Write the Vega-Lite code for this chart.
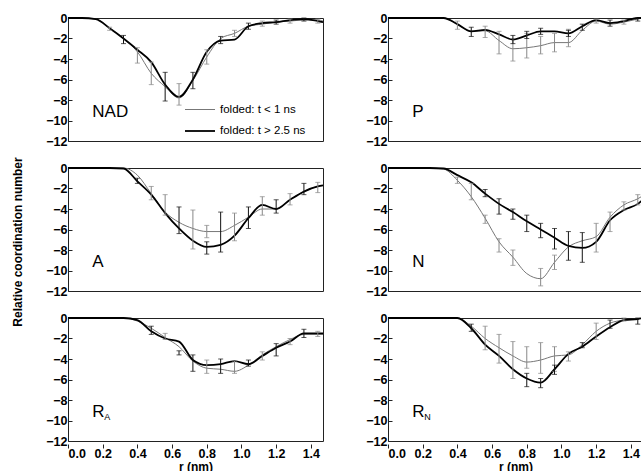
{
  "$schema": "https://vega.github.io/schema/vega-lite/v6.json",
  "padding": {"left": 12, "top": 11, "right": 0, "bottom": 0},
  "background": "white",
  "title": {"text": "Relative coordination number", "orient": "left", "anchor": "middle", "font": "Liberation Sans", "fontSize": 12, "fontWeight": "bold", "color": "#000", "offset": 20},
  "config": {
    "view": {"stroke": "#222", "strokeWidth": 1},
    "header": {"labels": false, "title": null, "labelFontSize": 0, "labelPadding": 0, "titlePadding": 0},
    "axis": {"domain": false, "grid": false, "labelFont": "Liberation Sans", "labelFontWeight": "bold", "labelFontSize": 12.5, "labelColor": "#000", "tickColor": "#222", "tickSize": 4, "offset": -4, "tickWidth": 1, "labelOverlap": false, "labelSeparation": -40, "labelBound": false, "titleFont": "Liberation Sans", "titleFontWeight": "bold", "titleFontSize": 12, "titleColor": "#000"},
    "axisX": {"labelOverlap": false, "labelSeparation": -40},
    "axisY": {"labelOverlap": false, "labelSeparation": -40},
    "legend": {"labelFont": "Liberation Sans", "labelFontSize": 11.5, "labelColor": "#000"}
  },
  "data": {"values": [
    {"p":"NAD","s":"thin","r":0,"v":0,"lab":"NAD","sub":""},{"p":"NAD","s":"thin","r":0.08,"v":0},{"p":"NAD","s":"thin","r":0.16,"v":-0.1},{"p":"NAD","s":"thin","r":0.24,"v":-1.0,"lo":-0.9,"hi":-1.2},{"p":"NAD","s":"thin","r":0.32,"v":-2.0},{"p":"NAD","s":"thin","r":0.4,"v":-3.3,"lo":-2.9,"hi":-4.4},{"p":"NAD","s":"thin","r":0.48,"v":-5.4,"lo":-4.3,"hi":-6.5},{"p":"NAD","s":"thin","r":0.56,"v":-6.7},{"p":"NAD","s":"thin","r":0.64,"v":-7.8,"lo":-6.4,"hi":-8.5},{"p":"NAD","s":"thin","r":0.72,"v":-6.1},{"p":"NAD","s":"thin","r":0.8,"v":-3.8,"lo":-3.1,"hi":-4.5},{"p":"NAD","s":"thin","r":0.88,"v":-2.0},{"p":"NAD","s":"thin","r":0.96,"v":-1.5,"lo":-1.2,"hi":-1.8},{"p":"NAD","s":"thin","r":1.04,"v":-0.8},{"p":"NAD","s":"thin","r":1.12,"v":-0.6,"lo":-0.3,"hi":-0.8},{"p":"NAD","s":"thin","r":1.2,"v":-0.4},{"p":"NAD","s":"thin","r":1.28,"v":-0.3,"lo":-0.1,"hi":-0.5},{"p":"NAD","s":"thin","r":1.36,"v":-0.2},{"p":"NAD","s":"thin","r":1.44,"v":-0.2,"lo":-0.1,"hi":-0.5},{"p":"NAD","s":"thin","r":1.47,"v":-0.3},
    {"p":"NAD","s":"thick","r":0,"v":0},{"p":"NAD","s":"thick","r":0.08,"v":0},{"p":"NAD","s":"thick","r":0.16,"v":-0.1},{"p":"NAD","s":"thick","r":0.24,"v":-1.0},{"p":"NAD","s":"thick","r":0.32,"v":-2.0,"lo":-1.7,"hi":-2.5},{"p":"NAD","s":"thick","r":0.4,"v":-3.1},{"p":"NAD","s":"thick","r":0.48,"v":-4.3},{"p":"NAD","s":"thick","r":0.56,"v":-6.5,"lo":-5.3,"hi":-8.1},{"p":"NAD","s":"thick","r":0.64,"v":-7.7},{"p":"NAD","s":"thick","r":0.72,"v":-6.0,"lo":-5.3,"hi":-6.9},{"p":"NAD","s":"thick","r":0.8,"v":-3.3},{"p":"NAD","s":"thick","r":0.88,"v":-2.2,"lo":-1.8,"hi":-2.5},{"p":"NAD","s":"thick","r":0.96,"v":-2.1},{"p":"NAD","s":"thick","r":1.04,"v":-0.8,"lo":-0.5,"hi":-1.1},{"p":"NAD","s":"thick","r":1.12,"v":-0.5},{"p":"NAD","s":"thick","r":1.2,"v":-0.4,"lo":-0.2,"hi":-0.6},{"p":"NAD","s":"thick","r":1.28,"v":-0.2},{"p":"NAD","s":"thick","r":1.36,"v":-0.1,"lo":0,"hi":-0.3},{"p":"NAD","s":"thick","r":1.44,"v":-0.3},{"p":"NAD","s":"thick","r":1.47,"v":-0.4},

    {"p":"P","s":"thin","r":0,"v":0,"lab":"P","sub":""},{"p":"P","s":"thin","r":0.08,"v":0},{"p":"P","s":"thin","r":0.16,"v":0},{"p":"P","s":"thin","r":0.24,"v":0},{"p":"P","s":"thin","r":0.32,"v":0},{"p":"P","s":"thin","r":0.4,"v":-0.6,"lo":-0.3,"hi":-1.1},{"p":"P","s":"thin","r":0.48,"v":-1.3},{"p":"P","s":"thin","r":0.56,"v":-1.25,"lo":-0.8,"hi":-1.9},{"p":"P","s":"thin","r":0.64,"v":-2.2,"lo":-1.3,"hi":-3.5},{"p":"P","s":"thin","r":0.72,"v":-3.0,"lo":-2.0,"hi":-4.2},{"p":"P","s":"thin","r":0.8,"v":-2.9,"lo":-1.5,"hi":-3.9},{"p":"P","s":"thin","r":0.88,"v":-2.7,"lo":-1.8,"hi":-3.5},{"p":"P","s":"thin","r":0.96,"v":-2.4,"lo":-1.5,"hi":-3.3},{"p":"P","s":"thin","r":1.04,"v":-2.4,"lo":-1.1,"hi":-2.8},{"p":"P","s":"thin","r":1.12,"v":-1.2},{"p":"P","s":"thin","r":1.2,"v":-0.3,"lo":-0.1,"hi":-0.5},{"p":"P","s":"thin","r":1.28,"v":-0.6},{"p":"P","s":"thin","r":1.36,"v":-0.4,"lo":-0.2,"hi":-0.6},{"p":"P","s":"thin","r":1.44,"v":-0.1},{"p":"P","s":"thin","r":1.47,"v":0},
    {"p":"P","s":"thick","r":0,"v":0},{"p":"P","s":"thick","r":0.08,"v":0},{"p":"P","s":"thick","r":0.16,"v":0},{"p":"P","s":"thick","r":0.24,"v":0},{"p":"P","s":"thick","r":0.32,"v":0},{"p":"P","s":"thick","r":0.4,"v":-0.6},{"p":"P","s":"thick","r":0.48,"v":-1.3,"lo":-0.9,"hi":-1.8},{"p":"P","s":"thick","r":0.56,"v":-1.15},{"p":"P","s":"thick","r":0.64,"v":-1.6},{"p":"P","s":"thick","r":0.72,"v":-2.1,"lo":-1.7,"hi":-2.5},{"p":"P","s":"thick","r":0.8,"v":-1.7,"lo":-1.3,"hi":-2.0},{"p":"P","s":"thick","r":0.88,"v":-1.3,"lo":-1.0,"hi":-1.6},{"p":"P","s":"thick","r":0.96,"v":-1.3},{"p":"P","s":"thick","r":1.04,"v":-1.5,"lo":-1.2,"hi":-1.8},{"p":"P","s":"thick","r":1.12,"v":-0.8,"lo":-0.6,"hi":-1.2},{"p":"P","s":"thick","r":1.2,"v":-0.2},{"p":"P","s":"thick","r":1.28,"v":-0.5,"lo":-0.2,"hi":-0.8},{"p":"P","s":"thick","r":1.36,"v":-0.3},{"p":"P","s":"thick","r":1.44,"v":0,"lo":0,"hi":-0.3},{"p":"P","s":"thick","r":1.47,"v":0},

    {"p":"A","s":"thin","r":0,"v":0,"lab":"A","sub":""},{"p":"A","s":"thin","r":0.08,"v":0},{"p":"A","s":"thin","r":0.16,"v":0},{"p":"A","s":"thin","r":0.24,"v":0},{"p":"A","s":"thin","r":0.32,"v":0},{"p":"A","s":"thin","r":0.4,"v":-0.7},{"p":"A","s":"thin","r":0.48,"v":-2.5,"lo":-1.8,"hi":-3.1},{"p":"A","s":"thin","r":0.56,"v":-4.3,"lo":-2.6,"hi":-4.6},{"p":"A","s":"thin","r":0.64,"v":-5.3},{"p":"A","s":"thin","r":0.72,"v":-5.9,"lo":-4.1,"hi":-7.9},{"p":"A","s":"thin","r":0.8,"v":-6.2,"lo":-5.6,"hi":-6.8},{"p":"A","s":"thin","r":0.88,"v":-6.2},{"p":"A","s":"thin","r":0.96,"v":-5.6,"lo":-4.4,"hi":-7.1},{"p":"A","s":"thin","r":1.04,"v":-4.8},{"p":"A","s":"thin","r":1.12,"v":-4.0,"lo":-2.8,"hi":-4.6},{"p":"A","s":"thin","r":1.2,"v":-4.0},{"p":"A","s":"thin","r":1.28,"v":-3.1,"lo":-2.5,"hi":-3.6},{"p":"A","s":"thin","r":1.36,"v":-2.3},{"p":"A","s":"thin","r":1.44,"v":-1.8,"lo":-1.4,"hi":-2.4},{"p":"A","s":"thin","r":1.47,"v":-1.7},
    {"p":"A","s":"thick","r":0,"v":0},{"p":"A","s":"thick","r":0.08,"v":0},{"p":"A","s":"thick","r":0.16,"v":0},{"p":"A","s":"thick","r":0.24,"v":0},{"p":"A","s":"thick","r":0.32,"v":-0.05},{"p":"A","s":"thick","r":0.4,"v":-1.3,"lo":-1.0,"hi":-1.5},{"p":"A","s":"thick","r":0.48,"v":-2.6},{"p":"A","s":"thick","r":0.56,"v":-4.4},{"p":"A","s":"thick","r":0.64,"v":-5.9,"lo":-3.8,"hi":-6.4},{"p":"A","s":"thick","r":0.72,"v":-7.1},{"p":"A","s":"thick","r":0.8,"v":-7.7,"lo":-7.2,"hi":-8.4},{"p":"A","s":"thick","r":0.88,"v":-7.5,"lo":-4.3,"hi":-8.2},{"p":"A","s":"thick","r":0.96,"v":-6.6},{"p":"A","s":"thick","r":1.04,"v":-4.9,"lo":-3.8,"hi":-5.9},{"p":"A","s":"thick","r":1.12,"v":-3.6},{"p":"A","s":"thick","r":1.2,"v":-4.0,"lo":-3.1,"hi":-4.4},{"p":"A","s":"thick","r":1.28,"v":-3.1},{"p":"A","s":"thick","r":1.36,"v":-2.3,"lo":-1.5,"hi":-2.6},{"p":"A","s":"thick","r":1.44,"v":-1.8},{"p":"A","s":"thick","r":1.47,"v":-1.7},

    {"p":"N","s":"thin","r":0,"v":0,"lab":"N","sub":""},{"p":"N","s":"thin","r":0.08,"v":0},{"p":"N","s":"thin","r":0.16,"v":0},{"p":"N","s":"thin","r":0.24,"v":0},{"p":"N","s":"thin","r":0.32,"v":-0.1},{"p":"N","s":"thin","r":0.4,"v":-1.2,"lo":-0.9,"hi":-1.5},{"p":"N","s":"thin","r":0.48,"v":-2.8,"lo":-1.5,"hi":-3.1},{"p":"N","s":"thin","r":0.56,"v":-4.9,"lo":-4.6,"hi":-5.4},{"p":"N","s":"thin","r":0.64,"v":-7.2,"lo":-6.9,"hi":-8.2},{"p":"N","s":"thin","r":0.72,"v":-8.7,"lo":-8.0,"hi":-9.5},{"p":"N","s":"thin","r":0.8,"v":-10.3},{"p":"N","s":"thin","r":0.88,"v":-10.8,"lo":-9.8,"hi":-11.5},{"p":"N","s":"thin","r":0.96,"v":-9.2,"lo":-8.5,"hi":-9.9},{"p":"N","s":"thin","r":1.04,"v":-7.7},{"p":"N","s":"thin","r":1.12,"v":-7.1},{"p":"N","s":"thin","r":1.2,"v":-6.7,"lo":-5.4,"hi":-8.2},{"p":"N","s":"thin","r":1.28,"v":-4.8,"lo":-4.3,"hi":-6.2},{"p":"N","s":"thin","r":1.36,"v":-3.6,"lo":-3.3,"hi":-4.1},{"p":"N","s":"thin","r":1.44,"v":-3.0,"lo":-2.6,"hi":-3.6},{"p":"N","s":"thin","r":1.47,"v":-2.7},
    {"p":"N","s":"thick","r":0,"v":0},{"p":"N","s":"thick","r":0.08,"v":0},{"p":"N","s":"thick","r":0.16,"v":0},{"p":"N","s":"thick","r":0.24,"v":0},{"p":"N","s":"thick","r":0.32,"v":-0.05},{"p":"N","s":"thick","r":0.4,"v":-0.7},{"p":"N","s":"thick","r":0.48,"v":-1.4},{"p":"N","s":"thick","r":0.56,"v":-2.5,"lo":-2.1,"hi":-2.8},{"p":"N","s":"thick","r":0.64,"v":-3.5,"lo":-3.0,"hi":-4.5},{"p":"N","s":"thick","r":0.72,"v":-4.3,"lo":-4.0,"hi":-5.0},{"p":"N","s":"thick","r":0.8,"v":-5.2,"lo":-4.6,"hi":-6.2},{"p":"N","s":"thick","r":0.88,"v":-6.0,"lo":-5.4,"hi":-6.8},{"p":"N","s":"thick","r":0.96,"v":-6.8,"lo":-5.9,"hi":-7.9},{"p":"N","s":"thick","r":1.04,"v":-7.6,"lo":-6.2,"hi":-9.0},{"p":"N","s":"thick","r":1.12,"v":-7.8,"lo":-6.3,"hi":-9.2},{"p":"N","s":"thick","r":1.2,"v":-7.2},{"p":"N","s":"thick","r":1.28,"v":-5.1},{"p":"N","s":"thick","r":1.36,"v":-4.1},{"p":"N","s":"thick","r":1.44,"v":-3.5},{"p":"N","s":"thick","r":1.47,"v":-3.1},

    {"p":"RA","s":"thin","r":0,"v":0,"lab":"R","sub":"A"},{"p":"RA","s":"thin","r":0.08,"v":0},{"p":"RA","s":"thin","r":0.16,"v":0},{"p":"RA","s":"thin","r":0.24,"v":0},{"p":"RA","s":"thin","r":0.32,"v":0},{"p":"RA","s":"thin","r":0.4,"v":-0.3},{"p":"RA","s":"thin","r":0.48,"v":-1.0},{"p":"RA","s":"thin","r":0.56,"v":-1.9,"lo":-1.5,"hi":-2.1},{"p":"RA","s":"thin","r":0.64,"v":-2.8},{"p":"RA","s":"thin","r":0.72,"v":-4.2},{"p":"RA","s":"thin","r":0.8,"v":-4.9,"lo":-4.1,"hi":-5.4},{"p":"RA","s":"thin","r":0.88,"v":-5.0},{"p":"RA","s":"thin","r":0.96,"v":-5.2,"lo":-4.2,"hi":-5.4},{"p":"RA","s":"thin","r":1.04,"v":-4.6},{"p":"RA","s":"thin","r":1.12,"v":-3.6,"lo":-3.3,"hi":-4.1},{"p":"RA","s":"thin","r":1.2,"v":-2.8},{"p":"RA","s":"thin","r":1.28,"v":-2.1,"lo":-2.0,"hi":-2.6},{"p":"RA","s":"thin","r":1.36,"v":-1.6},{"p":"RA","s":"thin","r":1.44,"v":-1.6,"lo":-1.3,"hi":-1.8},{"p":"RA","s":"thin","r":1.47,"v":-1.6},
    {"p":"RA","s":"thick","r":0,"v":0},{"p":"RA","s":"thick","r":0.08,"v":0},{"p":"RA","s":"thick","r":0.16,"v":0},{"p":"RA","s":"thick","r":0.24,"v":0},{"p":"RA","s":"thick","r":0.32,"v":0},{"p":"RA","s":"thick","r":0.4,"v":-0.2},{"p":"RA","s":"thick","r":0.48,"v":-1.3,"lo":-0.8,"hi":-1.6},{"p":"RA","s":"thick","r":0.56,"v":-2.0},{"p":"RA","s":"thick","r":0.64,"v":-2.3,"lo":-3.2,"hi":-3.6},{"p":"RA","s":"thick","r":0.72,"v":-4.1,"lo":-3.6,"hi":-5.2},{"p":"RA","s":"thick","r":0.8,"v":-4.6},{"p":"RA","s":"thick","r":0.88,"v":-4.5,"lo":-4.0,"hi":-5.4},{"p":"RA","s":"thick","r":0.96,"v":-4.2},{"p":"RA","s":"thick","r":1.04,"v":-4.5,"lo":-4.1,"hi":-4.7},{"p":"RA","s":"thick","r":1.12,"v":-3.7},{"p":"RA","s":"thick","r":1.2,"v":-2.9,"lo":-2.5,"hi":-3.7},{"p":"RA","s":"thick","r":1.28,"v":-2.3},{"p":"RA","s":"thick","r":1.36,"v":-1.5,"lo":-1.1,"hi":-1.9},{"p":"RA","s":"thick","r":1.44,"v":-1.5},{"p":"RA","s":"thick","r":1.47,"v":-1.5},

    {"p":"RN","s":"thin","r":0,"v":0,"lab":"R","sub":"N"},{"p":"RN","s":"thin","r":0.08,"v":0},{"p":"RN","s":"thin","r":0.16,"v":0},{"p":"RN","s":"thin","r":0.24,"v":0},{"p":"RN","s":"thin","r":0.32,"v":0},{"p":"RN","s":"thin","r":0.4,"v":0},{"p":"RN","s":"thin","r":0.48,"v":-0.8},{"p":"RN","s":"thin","r":0.56,"v":-2.0,"lo":-0.8,"hi":-3.1},{"p":"RN","s":"thin","r":0.64,"v":-2.9,"lo":-1.6,"hi":-4.4},{"p":"RN","s":"thin","r":0.72,"v":-3.7,"lo":-2.3,"hi":-5.9},{"p":"RN","s":"thin","r":0.8,"v":-4.3,"lo":-2.8,"hi":-4.9},{"p":"RN","s":"thin","r":0.88,"v":-4.1,"lo":-2.4,"hi":-5.4},{"p":"RN","s":"thin","r":0.96,"v":-3.7,"lo":-2.8,"hi":-5.2},{"p":"RN","s":"thin","r":1.04,"v":-3.6,"lo":-3.3,"hi":-4.2},{"p":"RN","s":"thin","r":1.12,"v":-2.6},{"p":"RN","s":"thin","r":1.2,"v":-1.3,"lo":-0.5,"hi":-2.1},{"p":"RN","s":"thin","r":1.28,"v":-0.5},{"p":"RN","s":"thin","r":1.36,"v":-0.2,"lo":0,"hi":-0.3},{"p":"RN","s":"thin","r":1.44,"v":-0.1},{"p":"RN","s":"thin","r":1.47,"v":0},
    {"p":"RN","s":"thick","r":0,"v":0},{"p":"RN","s":"thick","r":0.08,"v":0},{"p":"RN","s":"thick","r":0.16,"v":0},{"p":"RN","s":"thick","r":0.24,"v":0},{"p":"RN","s":"thick","r":0.32,"v":0},{"p":"RN","s":"thick","r":0.4,"v":0},{"p":"RN","s":"thick","r":0.48,"v":-1.0,"lo":-0.6,"hi":-1.3},{"p":"RN","s":"thick","r":0.56,"v":-2.6},{"p":"RN","s":"thick","r":0.64,"v":-3.7},{"p":"RN","s":"thick","r":0.72,"v":-5.0},{"p":"RN","s":"thick","r":0.8,"v":-5.9,"lo":-5.4,"hi":-6.7},{"p":"RN","s":"thick","r":0.88,"v":-6.3,"lo":-5.9,"hi":-6.8},{"p":"RN","s":"thick","r":0.96,"v":-5.0,"lo":-4.6,"hi":-5.5},{"p":"RN","s":"thick","r":1.04,"v":-3.5},{"p":"RN","s":"thick","r":1.12,"v":-2.8,"lo":-2.4,"hi":-2.9},{"p":"RN","s":"thick","r":1.2,"v":-1.8},{"p":"RN","s":"thick","r":1.28,"v":-0.9,"lo":-0.2,"hi":-1.0},{"p":"RN","s":"thick","r":1.36,"v":-0.2},{"p":"RN","s":"thick","r":1.44,"v":-0.1,"lo":0,"hi":-0.6},{"p":"RN","s":"thick","r":1.47,"v":0}
  ]},
  "facet": {"field": "p", "type": "nominal", "sort": ["NAD", "P", "A", "N", "RA", "RN"], "header": {"labels": false, "title": null, "labelExpr": "''", "labelFontSize": 0}},
  "columns": 2,
  "spacing": {"row": 13, "column": 37},
  "resolve": {"axis": {"y": "independent"}},
  "spec": {
    "width": 255,
    "height": 123,
    "layer": [
      {
        "mark": {"type": "line", "interpolate": "monotone"},
        "encoding": {
          "x": {"field": "r", "type": "quantitative", "scale": {"domain": [0, 1.47], "nice": false}, "axis": {"title": "r (nm)", "values": [0,0.2,0.4,0.6,0.8,1.0,1.2,1.4], "tickCount": 8, "format": ".1f", "labelOverlap": false, "labelSeparation": -40, "titlePadding": 2, "labelPadding": -1}},
          "y": {"field": "v", "type": "quantitative", "scale": {"domain": [-12, 0], "nice": false}, "axis": {"title": null, "values": [-12,-10,-8,-6,-4,-2,0], "tickCount": 7, "labelOverlap": false, "labelSeparation": -40, "labelPadding": 1}},
          "color": {"field": "s", "type": "nominal", "scale": {"domain": ["thin", "thick"], "range": ["#777777", "#000000"]}, "legend": {"orient": "none", "legendX": 116, "legendY": 76, "title": null, "symbolType": "stroke", "symbolSize": 900, "symbolStrokeWidth": 1.5, "rowPadding": -16, "labelOffset": 4, "labelExpr": "datum.label == 'thin' ? 'folded: t < 1 ns' : 'folded: t > 2.5 ns'"}},
          "strokeWidth": {"field": "s", "type": "nominal", "scale": {"domain": ["thin", "thick"], "range": [1, 1.8]}, "legend": null},
          "order": {"field": "r", "type": "quantitative"}
        }
      },
      {
        "transform": [{"filter": "isValid(datum.lo) && datum.s == 'thin'"}],
        "mark": {"type": "errorbar", "ticks": {"size": 5, "color": "#888888"}, "rule": {"color": "#888888", "strokeWidth": 1}},
        "encoding": {
          "x": {"field": "r", "type": "quantitative", "axis": {"title": "r (nm)", "values": [0,0.2,0.4,0.6,0.8,1.0,1.2,1.4], "tickCount": 8, "format": ".1f", "labelOverlap": false, "labelSeparation": -40, "titlePadding": 2, "labelPadding": -1}},
          "y": {"field": "lo", "type": "quantitative", "axis": {"title": null, "values": [-12,-10,-8,-6,-4,-2,0], "tickCount": 7, "labelOverlap": false, "labelSeparation": -40, "labelPadding": 1}},
          "y2": {"field": "hi"}
        }
      },
      {
        "transform": [{"filter": "isValid(datum.lo) && datum.s == 'thick'"}],
        "mark": {"type": "errorbar", "ticks": {"size": 5, "color": "#111111"}, "rule": {"color": "#111111", "strokeWidth": 1}},
        "encoding": {
          "x": {"field": "r", "type": "quantitative", "axis": {"title": "r (nm)", "values": [0,0.2,0.4,0.6,0.8,1.0,1.2,1.4], "tickCount": 8, "format": ".1f", "labelOverlap": false, "labelSeparation": -40, "titlePadding": 2, "labelPadding": -1}},
          "y": {"field": "lo", "type": "quantitative", "axis": {"title": null, "values": [-12,-10,-8,-6,-4,-2,0], "tickCount": 7, "labelOverlap": false, "labelSeparation": -40, "labelPadding": 1}},
          "y2": {"field": "hi"}
        }
      },
      {
        "transform": [{"filter": "isValid(datum.lab)"}],
        "mark": {"type": "text", "align": "left", "baseline": "middle", "font": "Liberation Sans", "fontSize": 17, "color": "#000"},
        "encoding": {"x": {"datum": 0.14}, "y": {"datum": -9.2}, "text": {"field": "lab"}}
      },
      {
        "transform": [{"filter": "isValid(datum.sub) && datum.sub != ''"}],
        "mark": {"type": "text", "align": "left", "baseline": "middle", "font": "Liberation Sans", "fontSize": 9, "color": "#000", "dx": 12, "dy": 5},
        "encoding": {"x": {"datum": 0.14}, "y": {"datum": -9.2}, "text": {"field": "sub"}}
      }
    ]
  }
}
